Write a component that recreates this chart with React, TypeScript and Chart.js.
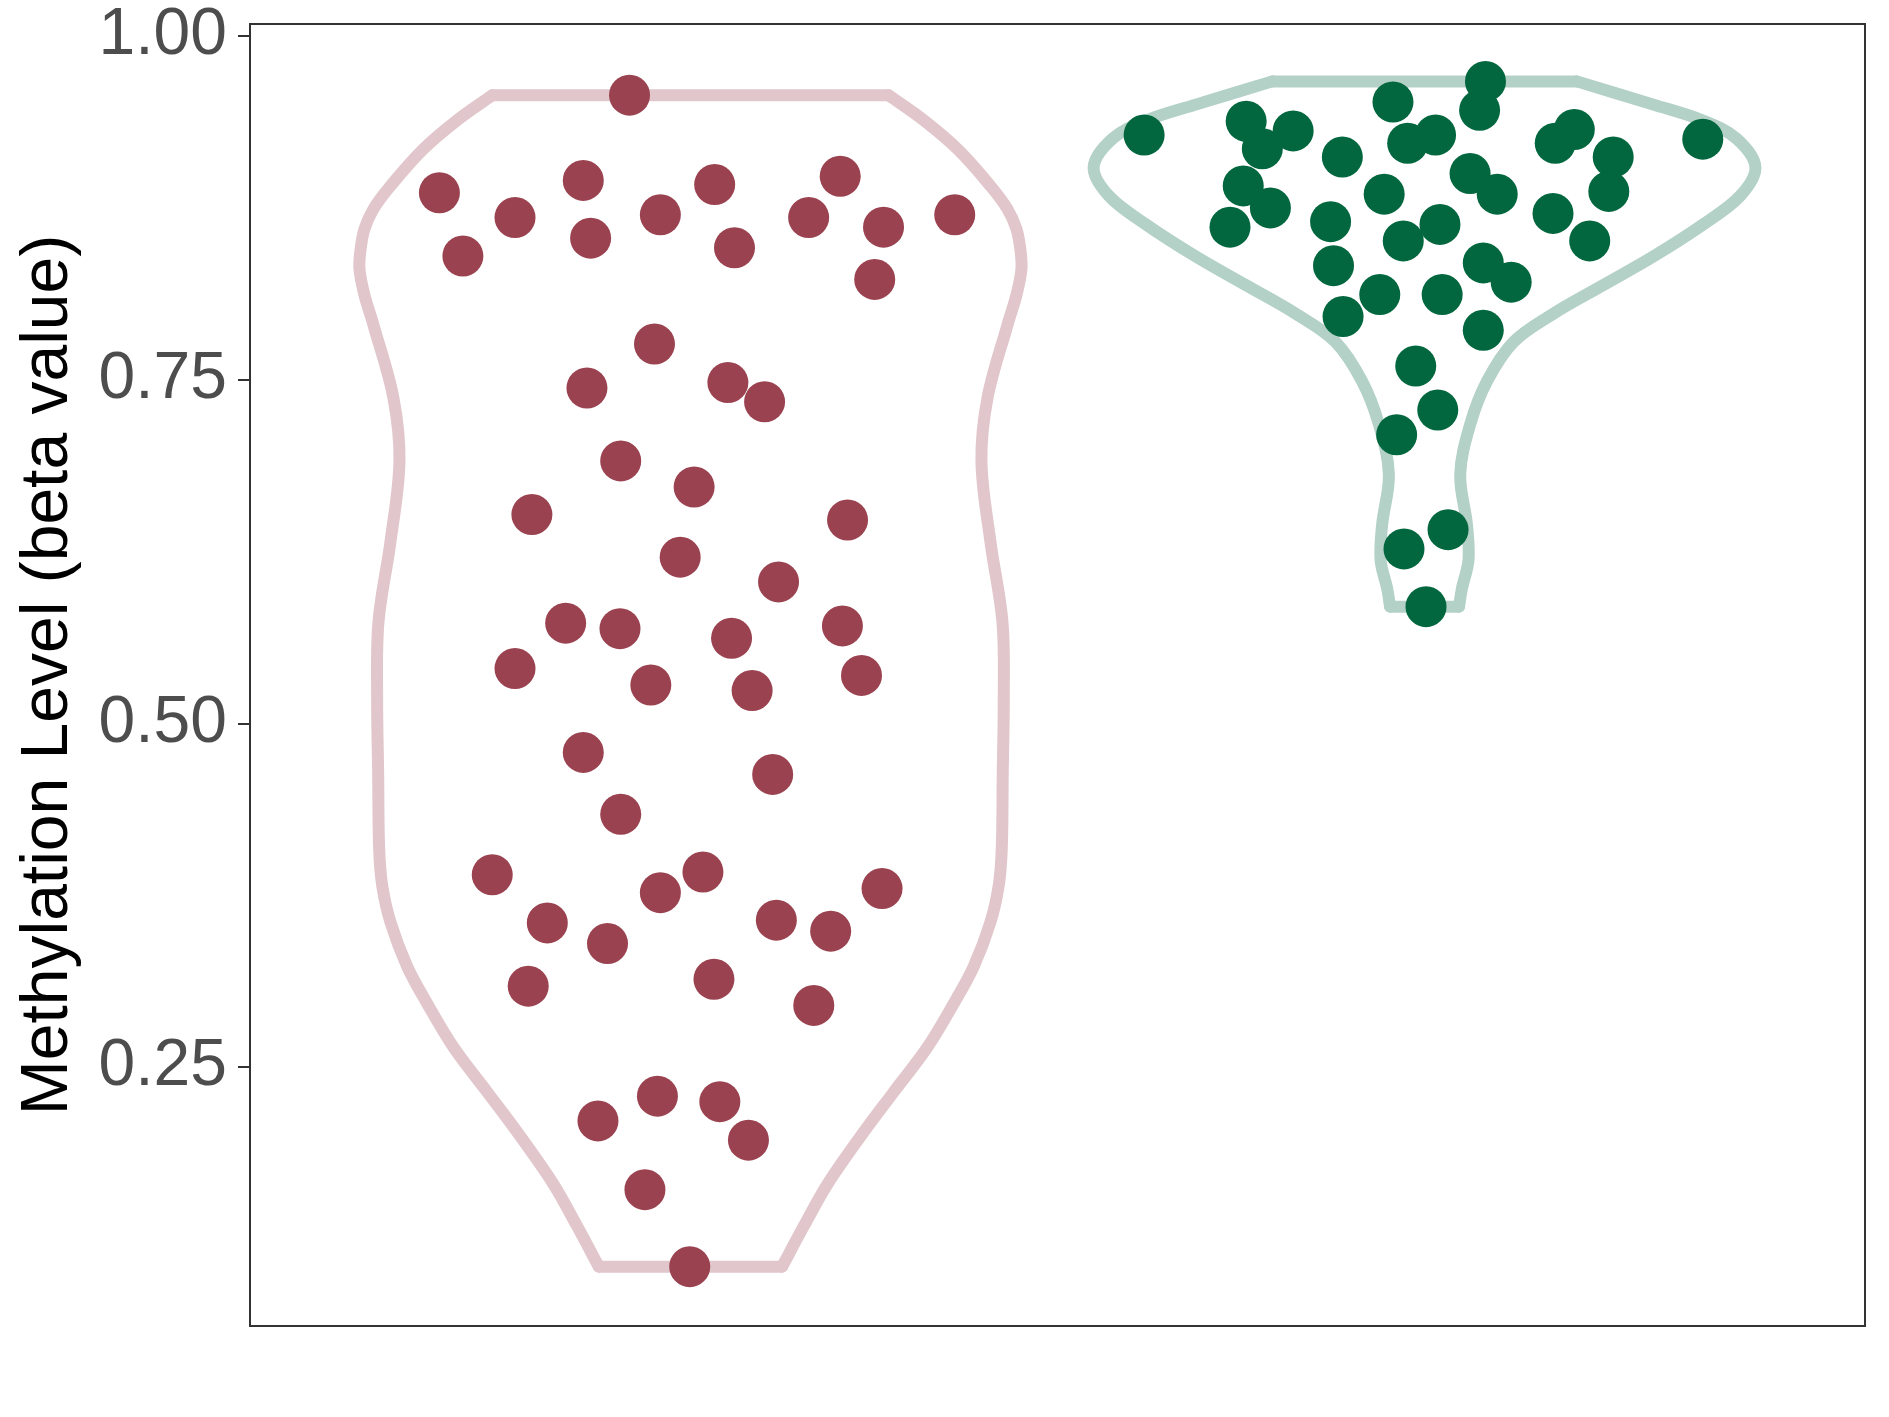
import React, { useEffect, useRef } from "react";
import { Chart, registerables } from "chart.js";

Chart.register(...registerables);

// ---- data ----
const categories = ["Group 1", "Group 2"];
const categoryCenters = [1, 2];
const yTickValues = [0.25, 0.5, 0.75, 1.0];
const yTickLabels = ["0.25", "0.50", "0.75", "1.00"];
const yAxisTitle = "Methylation Level (beta value)";

// jittered points, group 1
const group1X = [0.917, 0.658, 0.690, 0.761, 0.854, 0.864, 0.959, 1.033, 1.060, 1.161, 1.204, 1.263, 1.251, 1.360, 0.951, 0.859, 1.051, 1.101, 0.905, 1.005, 0.784, 1.214, 0.986, 1.120, 0.830, 0.904, 1.056, 1.207, 0.761, 0.946, 1.084, 1.233, 0.854, 1.112, 0.905, 0.730, 1.017, 0.959, 1.261, 0.805, 1.117, 1.191, 0.887, 1.032, 0.779, 1.168, 0.955, 1.040, 0.874, 1.079, 0.938, 0.999];
const group1Y = [0.957, 0.886, 0.840, 0.868, 0.895, 0.853, 0.870, 0.892, 0.846, 0.868, 0.898, 0.861, 0.823, 0.870, 0.776, 0.744, 0.748, 0.734, 0.691, 0.672, 0.652, 0.648, 0.621, 0.603, 0.573, 0.569, 0.562, 0.571, 0.540, 0.528, 0.524, 0.535, 0.479, 0.463, 0.434, 0.390, 0.392, 0.377, 0.380, 0.355, 0.357, 0.349, 0.340, 0.314, 0.309, 0.295, 0.229, 0.225, 0.211, 0.197, 0.161, 0.105];

// jittered points, group 2
const group2X = [1.618, 1.757, 1.779, 1.821, 1.753, 1.790, 1.735, 1.888, 1.872, 1.876, 1.889, 1.939, 1.945, 1.957, 1.977, 2.015, 1.971, 2.021, 2.024, 2.062, 2.099, 2.075, 2.083, 2.080, 2.118, 2.080, 1.988, 2.018, 1.962, 1.972, 2.032, 2.002, 2.178, 2.204, 2.257, 2.251, 2.175, 2.225, 2.379];
const group2Y = [0.928, 0.938, 0.918, 0.931, 0.891, 0.875, 0.861, 0.912, 0.865, 0.833, 0.796, 0.812, 0.885, 0.952, 0.922, 0.928, 0.851, 0.863, 0.812, 0.900, 0.885, 0.946, 0.967, 0.835, 0.821, 0.786, 0.760, 0.728, 0.710, 0.627, 0.641, 0.585, 0.922, 0.932, 0.912, 0.887, 0.871, 0.851, 0.925];

// violin outlines: density half-width (x units) at each level
const violin1Levels = [0.105, 0.1353, 0.1646, 0.1996, 0.232, 0.2642, 0.2964, 0.3233, 0.3556, 0.3825, 0.4095, 0.4633, 0.5171, 0.5738, 0.632, 0.6902, 0.7367, 0.7898, 0.8116, 0.8305, 0.8444, 0.8596, 0.8742, 0.8909, 0.9171, 0.9389, 0.957];
const violin1HalfWidths = [0.1249, 0.1553, 0.1862, 0.2316, 0.2769, 0.3224, 0.3587, 0.3859, 0.4087, 0.42, 0.4241, 0.4254, 0.4268, 0.425, 0.4087, 0.3964, 0.4046, 0.4318, 0.4441, 0.4509, 0.4495, 0.4441, 0.4318, 0.4087, 0.3651, 0.3174, 0.2697];

const violin2Levels = [0.585, 0.5981, 0.6189, 0.6449, 0.6812, 0.7176, 0.7488, 0.7775, 0.7981, 0.8189, 0.8397, 0.8631, 0.8839, 0.9047, 0.9254, 0.9384, 0.9501, 0.967];
const violin2HalfWidths = [0.047, 0.0509, 0.0599, 0.0577, 0.0486, 0.0622, 0.085, 0.1212, 0.1757, 0.2437, 0.3118, 0.3799, 0.4303, 0.4507, 0.4248, 0.3799, 0.3118, 0.2075];

const pointColors = ["#9A4250", "#02673F"];
const outlineColors = ["#E1C6CB", "#B3D1C6"];

function sidePath(center: number, levels: number[], hw: number[], sign: number) {
  return levels.map((v, i) => ({ x: center + sign * hw[i], y: v }));
}
function capPath(center: number, level: number, hw: number) {
  return [
    { x: center - hw, y: level },
    { x: center + hw, y: level },
  ];
}

function violinDatasets(center: number, levels: number[], hw: number[], color: string) {
  const base = {
    showLine: true,
    pointRadius: 0,
    borderColor: color,
    borderWidth: 12,
    borderCapStyle: "round" as const,
    borderJoinStyle: "round" as const,
    fill: false,
    order: 2,
  };
  const n = levels.length - 1;
  return [
    { ...base, data: sidePath(center, levels, hw, 1), tension: 0.35 },
    { ...base, data: sidePath(center, levels, hw, -1), tension: 0.35 },
    { ...base, data: capPath(center, levels[n], hw[n]), tension: 0 },
    { ...base, data: capPath(center, levels[0], hw[0]), tension: 0 },
  ];
}

const framePlugin = {
  id: "frame",
  afterDatasetsDraw(chart: any) {
    const { ctx, chartArea } = chart;
    ctx.save();
    ctx.strokeStyle = "#333333";
    ctx.lineWidth = 2;
    ctx.strokeRect(chartArea.left, chartArea.top, chartArea.right - chartArea.left, chartArea.bottom - chartArea.top);
    ctx.restore();
  },
};

export default function App() {
  const canvasRef = useRef<HTMLCanvasElement | null>(null);

  useEffect(() => {
    if (!canvasRef.current) return;
    const groups = [
      { x: group1X, y: group1Y },
      { x: group2X, y: group2Y },
    ];
    const pointSets = groups.map((g, gi) => ({
      label: categories[gi],
      data: g.x.map((x, i) => ({ x, y: g.y[i] })),
      backgroundColor: pointColors[gi],
      borderWidth: 0,
      pointRadius: 20.5,
      pointHoverRadius: 20.5,
      showLine: false,
      order: 1,
    }));
    const violins = [
      ...violinDatasets(categoryCenters[0], violin1Levels, violin1HalfWidths, outlineColors[0]),
      ...violinDatasets(categoryCenters[1], violin2Levels, violin2HalfWidths, outlineColors[1]),
    ];

    const chart = new Chart(canvasRef.current, {
      type: "scatter",
      data: { datasets: [...pointSets, ...violins] as any },
      options: {
        animation: false,
        responsive: false,
        devicePixelRatio: 1,
        events: [],
        layout: { padding: { left: 0, top: 24, right: 24, bottom: 91 } },
        plugins: { legend: { display: false }, tooltip: { enabled: false } },
        scales: {
          x: { type: "linear", min: 0.4, max: 2.6, display: false },
          y: {
            type: "linear",
            position: "left",
            min: 0.06182,
            max: 1.00873,
            afterFit: (scale: any) => {
              scale.width = 250;
              scale.paddingTop = 0;
              scale.paddingBottom = 0;
            },
            afterBuildTicks: (scale: any) => {
              scale.ticks = yTickValues.map((v) => ({ value: v }));
            },
            ticks: {
              callback: (value: any) => {
                const idx = yTickValues.indexOf(Number(value));
                return idx >= 0 ? yTickLabels[idx] : "";
              },
              color: "#4D4D4D",
              font: { family: "'Liberation Sans', Arial, sans-serif", size: 66 },
              padding: 11,
            },
            grid: {
              display: true,
              drawOnChartArea: false,
              drawTicks: true,
              tickLength: 12,
              tickColor: "#333333",
              lineWidth: 2,
            },
            border: { display: false },
            title: {
              display: true,
              text: yAxisTitle,
              color: "#000000",
              font: { family: "'Liberation Sans', Arial, sans-serif", size: 66 },
              padding: { top: 9, bottom: 0 },
            },
          },
        },
      },
      plugins: [framePlugin],
    });
    return () => chart.destroy();
  }, []);

  return (
    <div style={{ position: "absolute", left: 0, top: 0, width: 1889, height: 1417, background: "#ffffff" }}>
      <canvas ref={canvasRef} width={1889} height={1417} style={{ display: "block" }} />
    </div>
  );
}
